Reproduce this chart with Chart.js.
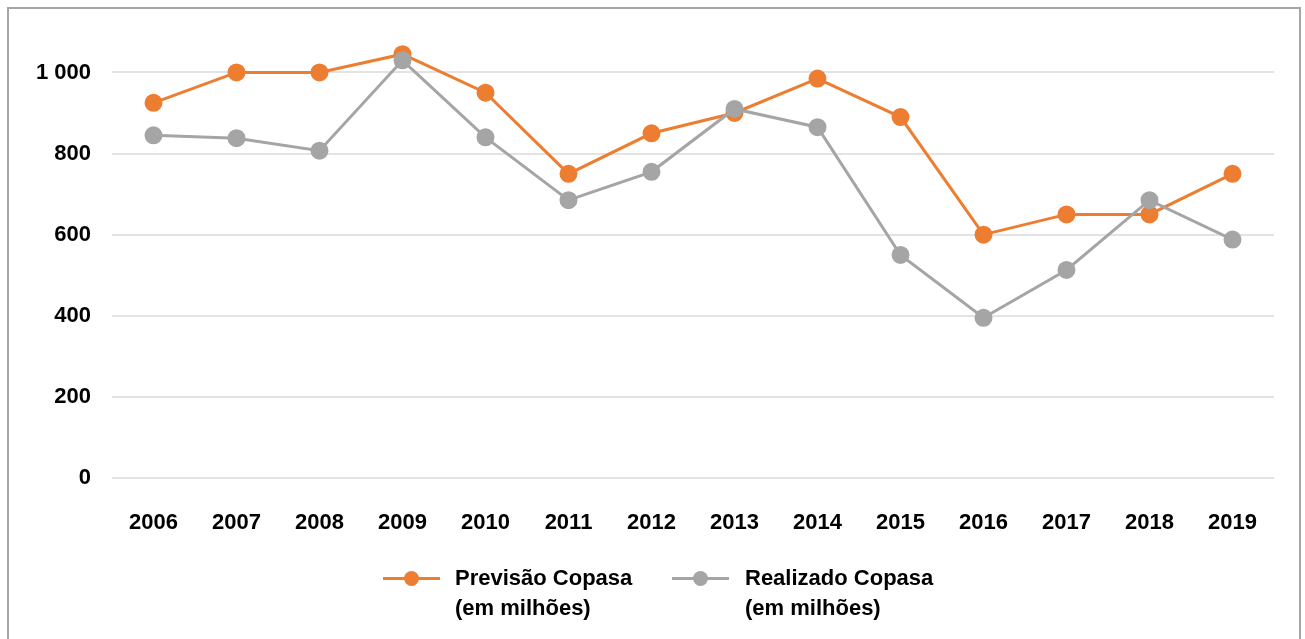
<!DOCTYPE html>
<html>
<head>
<meta charset="utf-8">
<script src="https://cdn.jsdelivr.net/npm/chart.js"></script>
<style>
  body { margin: 0; background: #fff; }
  #wrap { position: absolute; left: 0; top: 0; width: 1305px; height: 639px; }
  #frame { position: absolute; left: 7px; top: 7px; width: 1290px; height: 660px; border: 2px solid #a6a6a6; }
  .leg { position: absolute; font: bold 22px "Liberation Sans", Arial, sans-serif; line-height: 30px; color: #000; }
  .mk { position: absolute; height: 3px; }
  .mk span { position: absolute; left: 50%; top: 50%; width: 15px; height: 15px; margin: -7.5px 0 0 -7.5px; border-radius: 50%; }
</style>
</head>
<body>
<div id="wrap">
  <div id="frame"></div>
  <canvas id="c" width="1305" height="639"></canvas>
  <div class="mk" style="left:383px;top:577px;width:57px;background:#ed7d31"><span style="background:#ed7d31"></span></div>
  <div class="leg" style="left:455px;top:563px">Previsão Copasa<br>(em milhões)</div>
  <div class="mk" style="left:672px;top:577px;width:57px;background:#a5a5a5"><span style="background:#a5a5a5"></span></div>
  <div class="leg" style="left:745px;top:563px">Realizado Copasa<br>(em milhões)</div>
</div>
<script>
// anos e valores
const years = ['2006', '2007', '2008', '2009', '2010', '2011', '2012', '2013', '2014', '2015', '2016', '2017', '2018', '2019'];
const previsao = [925, 1000, 1000, 1045, 950, 750, 850, 900, 985, 890, 600, 650, 650, 750];
const realizado = [845, 838, 807, 1030, 840, 685, 755, 910, 865, 550, 395, 513, 685, 588];

const orange = '#ed7d31';
const grey = '#a5a5a5';
const tickFont = { family: '"Liberation Sans", Arial, sans-serif', size: 22, weight: 'bold' };

const ctx = document.getElementById('c').getContext('2d');
new Chart(ctx, {
    type: 'line',
    data: {
        labels: years,
        datasets: [{
            label: 'Realizado Copasa (em milhões)',
            data: realizado,
            borderColor: grey,
            backgroundColor: grey,
            pointBackgroundColor: grey,
            pointBorderColor: grey,
            borderWidth: 3,
            pointRadius: 7.5,
            tension: 0
        }, {
            label: 'Previsão Copasa (em milhões)',
            data: previsao,
            borderColor: orange,
            backgroundColor: orange,
            pointBackgroundColor: orange,
            pointBorderColor: orange,
            borderWidth: 3,
            pointRadius: 7.5,
            tension: 0
        }]
    },
    options: {
        responsive: false,
        animation: false,
        layout: { padding: { top: 40, right: 31, left: 0, bottom: 0 } },
        plugins: {
            legend: { display: false },
            tooltip: { enabled: false }
        },
        scales: {
            x: {
                offset: true,
                grid: { display: false },
                border: { display: false },
                ticks: { color: '#000', font: tickFont, padding: 24, maxRotation: 0 },
                afterFit: s => { s.height = 161; }
            },
            y: {
                min: 0,
                max: 1080,
                grid: { color: '#e3e3e3', lineWidth: 2, drawTicks: false },
                border: { display: false },
                afterBuildTicks: s => { s.ticks = s.ticks.filter(t => t.value % 200 === 0); },
                ticks: {
                    stepSize: 200,
                    color: '#000',
                    font: tickFont,
                    padding: 21,
                    callback: v => v >= 1000 ? '1 000' : String(v)
                },
                afterFit: s => { s.width = 112; }
            }
        }
    }
});
</script>
</body>
</html>
